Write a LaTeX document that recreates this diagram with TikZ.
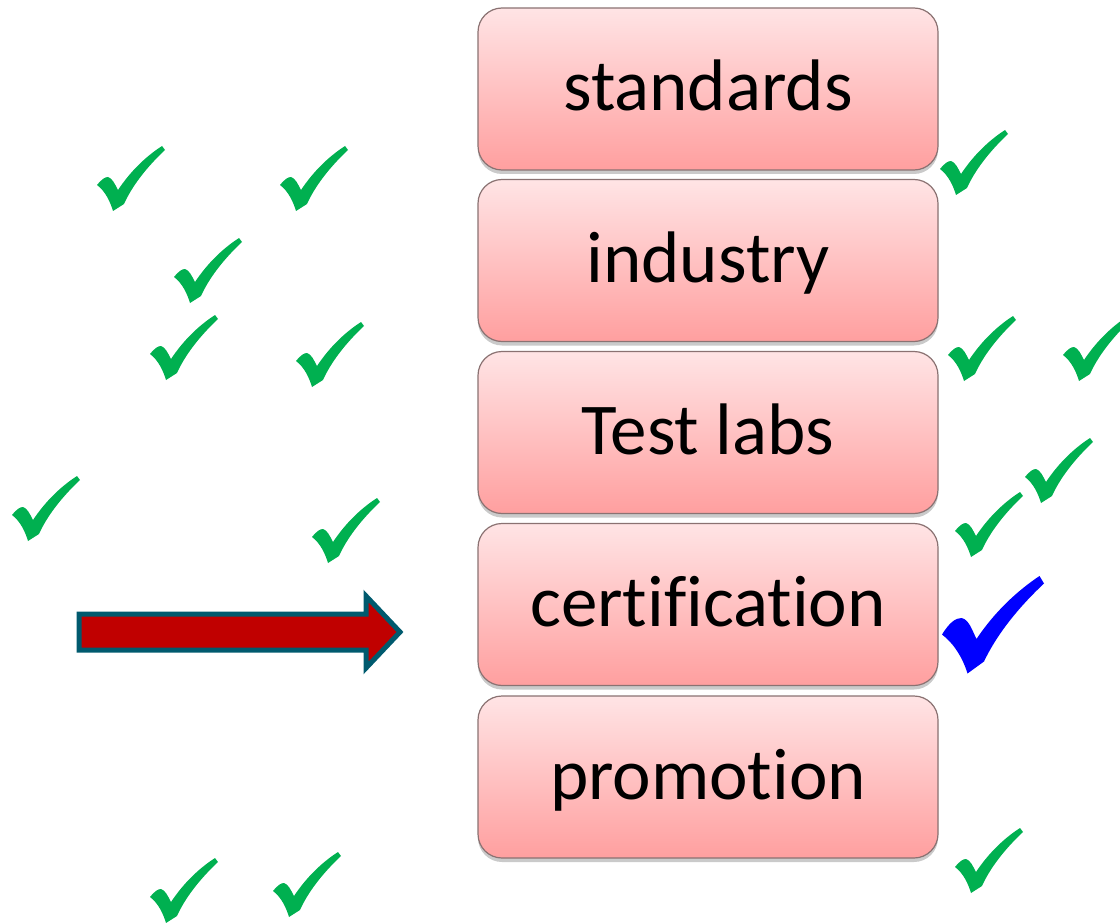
\documentclass[tikz,border=0pt]{standalone}
\usepackage{fontspec}
\setmainfont[Ligatures={NoCommon}]{Carlito}
\usetikzlibrary{shadows}
\definecolor{boxtop}{HTML}{FFE4E5}
\definecolor{boxbot}{HTML}{FF9F9F}
\definecolor{boxline}{HTML}{8A7272}
\definecolor{chkgreen}{HTML}{00B050}
\definecolor{chkblue}{HTML}{0000FF}
\definecolor{arrfill}{HTML}{C00000}
\definecolor{arrline}{HTML}{005A6E}
\tikzset{
  stagebox/.style={draw=boxline, line width=1.2pt, rounded corners=24pt,
    top color=boxtop, bottom color=boxbot,
    minimum width=460pt, minimum height=162pt, inner sep=0pt,
    text height=60pt, text depth=16pt,
    font=\fontsize{73}{80}\selectfont,
    drop shadow={shadow xshift=0pt, shadow yshift=-4pt, opacity=0.35, fill=black!60}},
  chk/.pic={\fill (0,39) .. controls (5,33) and (8,31) .. (11,31)
      .. controls (15,32) and (18,38) .. (21,44)
      .. controls (33,26) and (48,11) .. (65,0) -- (68,4)
      .. controls (52,19) and (36,38) .. (27,58) -- (16,65)
      .. controls (13,55) and (8,45) .. (0,39) -- cycle;},
  bchk/.pic={\fill (0,39) .. controls (5,31) and (9,28) .. (13,28)
      .. controls (18,29) and (20,36) .. (23,42)
      .. controls (35,24) and (50,10) .. (65,0) -- (68,5)
      .. controls (52,20) and (37,38) .. (28,57) -- (17,65)
      .. controls (14,55) and (8,45) .. (0,39) -- cycle;},
  bigarrow/.style={fill=arrfill, draw=arrline, line width=5pt, line join=miter}
}
\begin{document}
\begin{tikzpicture}[x=1pt,y=-1pt]
\useasboundingbox (0,0) rectangle (1120,923);
\node[stagebox] (s1) at (708,89) {standards};
\node[stagebox] (s2) at (708,260.5) {industry};
\node[stagebox] (s3) at (708,432.5) {Test labs};
\node[stagebox] (s4) at (708,604.5) {certification};
\node[stagebox] (s5) at (708,777) {promotion};
% block arrow
\coordinate (atail) at (79,632);
\coordinate (atip) at (400,632);
\draw[bigarrow] (79,614) -- (366,614) -- (366,596) -- (atip) -- (366,668) -- (366,650) -- (79,650) -- cycle;
% green checks
\foreach \px/\py in {97/146, 280/146, 174/238, 150/315, 296/322, 12/476, 312/498, 150/858, 273/852,
                     940/130, 948/316, 1063/316, 1025/438, 955/492, 955/828}
  \pic[fill=chkgreen] at (\px,\py) {chk};
% blue check
\pic[fill=chkblue, scale=1.5] at (942,576) {bchk};
\end{tikzpicture}
\end{document}
